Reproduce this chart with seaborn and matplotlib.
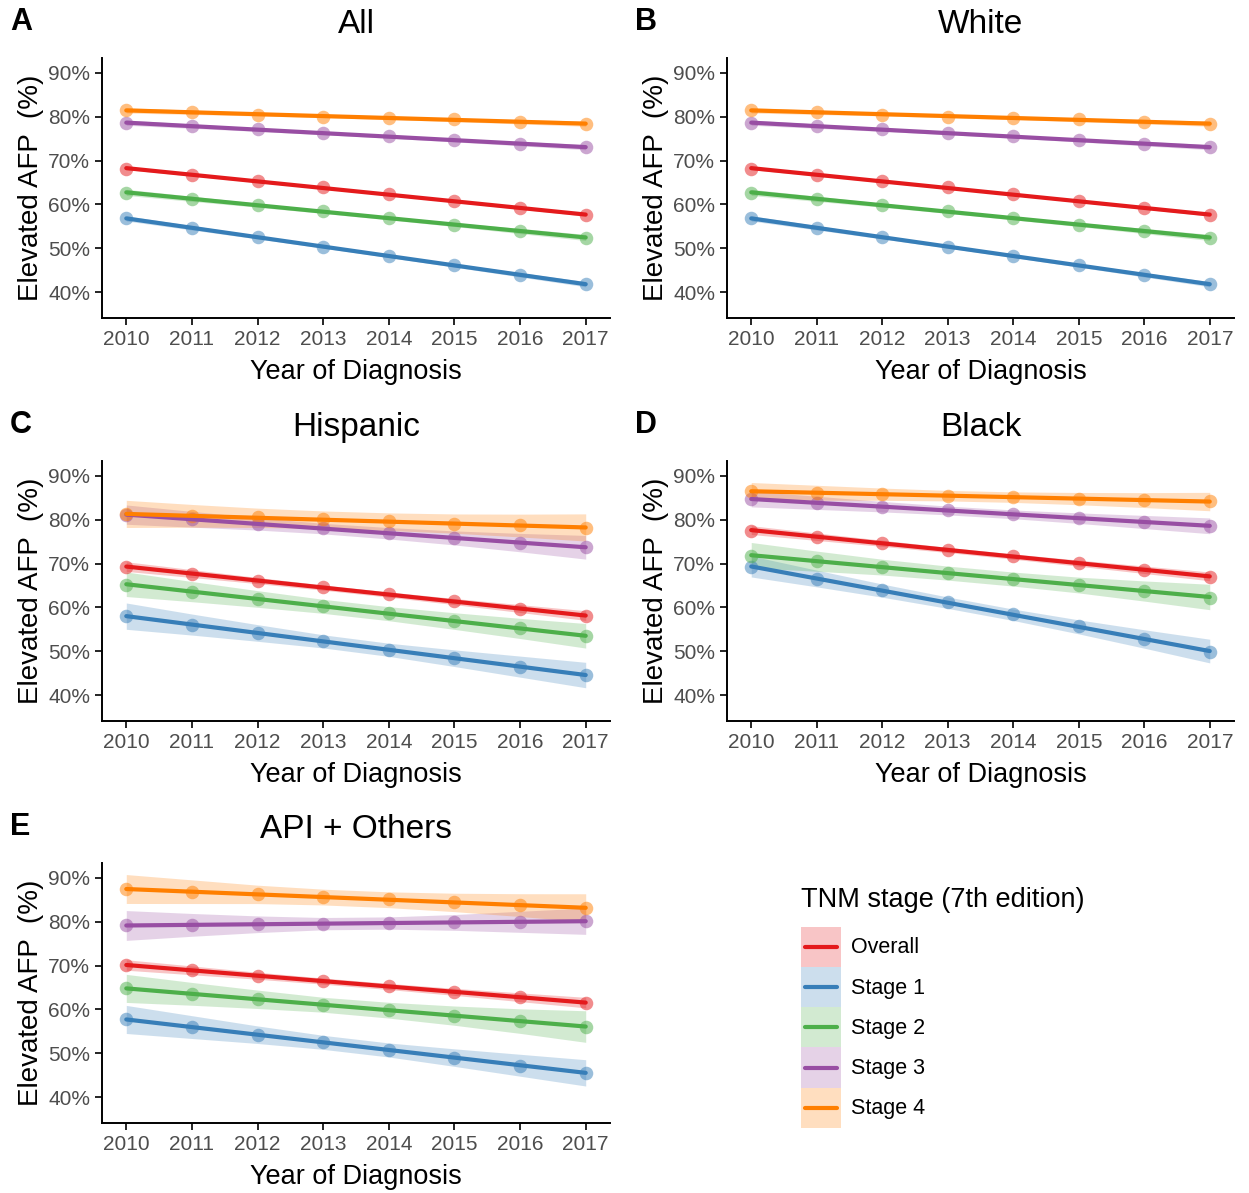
import numpy as np
import seaborn as sns
import matplotlib.pyplot as plt
from matplotlib.patches import Rectangle
from matplotlib.lines import Line2D
from matplotlib.legend_handler import HandlerBase


# years on the x axis
years = [2010, 2011, 2012, 2013, 2014, 2015, 2016, 2017]
stages = ['Overall', 'Stage 1', 'Stage 2', 'Stage 3', 'Stage 4']
colors = ['#E41A1C', '#377EB8', '#4DAF4A', '#984EA3', '#FF7F00']

all_pts = {
    'Overall': [68.1, 66.8, 65.3, 63.9, 62.3, 60.8, 59.1, 57.6],
    'Stage 1': [56.8, 54.7, 52.6, 50.3, 48.2, 46.1, 44.0, 41.8],
    'Stage 2': [62.7, 61.2, 59.9, 58.4, 57.0, 55.4, 53.9, 52.4],
    'Stage 3': [78.6, 77.8, 77.1, 76.3, 75.6, 74.7, 73.8, 73.0],
    'Stage 4': [81.5, 81.1, 80.5, 80.0, 79.7, 79.4, 78.9, 78.4],
}
white_pts = {
    'Overall': [68.1, 66.8, 65.3, 63.9, 62.3, 60.8, 59.1, 57.6],
    'Stage 1': [56.8, 54.7, 52.6, 50.3, 48.2, 46.1, 44.0, 41.8],
    'Stage 2': [62.7, 61.2, 59.9, 58.4, 57.0, 55.4, 53.9, 52.4],
    'Stage 3': [78.6, 77.8, 77.1, 76.3, 75.6, 74.7, 73.8, 73.0],
    'Stage 4': [81.5, 81.1, 80.5, 80.0, 79.7, 79.4, 78.9, 78.4],
}
hispanic_pts = {
    'Overall': [69.3, 67.7, 66.1, 64.6, 63.0, 61.4, 59.7, 58.1],
    'Stage 1': [58.0, 56.1, 54.2, 52.3, 50.3, 48.4, 46.5, 44.6],
    'Stage 2': [65.2, 63.6, 61.9, 60.3, 58.8, 56.9, 55.2, 53.4],
    'Stage 3': [81.0, 80.2, 79.1, 78.1, 76.9, 75.9, 74.7, 73.7],
    'Stage 4': [81.2, 80.8, 80.6, 80.1, 79.7, 79.1, 78.7, 78.1],
}
black_pts = {
    'Overall': [77.5, 76.1, 74.7, 73.2, 71.7, 70.2, 68.6, 66.9],
    'Stage 1': [69.2, 66.5, 63.9, 61.2, 58.5, 55.7, 52.8, 49.8],
    'Stage 2': [71.8, 70.5, 69.3, 67.9, 66.5, 65.2, 63.8, 62.2],
    'Stage 3': [84.7, 83.8, 83.0, 82.2, 81.3, 80.4, 79.4, 78.6],
    'Stage 4': [86.5, 86.2, 85.9, 85.4, 85.1, 84.8, 84.5, 84.2],
}
api_pts = {
    'Overall': [70.1, 68.9, 67.7, 66.5, 65.3, 64.0, 62.8, 61.5],
    'Stage 1': [57.8, 55.9, 54.2, 52.5, 50.8, 49.0, 47.2, 45.6],
    'Stage 2': [64.8, 63.5, 62.3, 61.1, 59.9, 58.6, 57.4, 56.0],
    'Stage 3': [79.2, 79.3, 79.4, 79.5, 79.7, 79.9, 79.9, 80.2],
    'Stage 4': [87.4, 86.8, 86.3, 85.7, 85.1, 84.4, 83.8, 83.1],
}

# half width of the confidence band around each fitted line (%)
all_ci = {
    'Overall': [0.35, 0.3, 0.25, 0.2, 0.2, 0.25, 0.3, 0.35],
    'Stage 1': [0.6, 0.5, 0.4, 0.35, 0.35, 0.4, 0.5, 0.6],
    'Stage 2': [0.7, 0.6, 0.45, 0.4, 0.4, 0.45, 0.6, 0.7],
    'Stage 3': [0.6, 0.5, 0.4, 0.35, 0.35, 0.4, 0.5, 0.6],
    'Stage 4': [0.6, 0.5, 0.4, 0.35, 0.35, 0.4, 0.5, 0.6],
}
white_ci = {
    'Overall': [0.35, 0.3, 0.25, 0.2, 0.2, 0.25, 0.3, 0.35],
    'Stage 1': [0.6, 0.5, 0.4, 0.35, 0.35, 0.4, 0.5, 0.6],
    'Stage 2': [0.7, 0.6, 0.45, 0.4, 0.4, 0.45, 0.6, 0.7],
    'Stage 3': [0.6, 0.5, 0.4, 0.35, 0.35, 0.4, 0.5, 0.6],
    'Stage 4': [0.6, 0.5, 0.4, 0.35, 0.35, 0.4, 0.5, 0.6],
}
hispanic_ci = {
    'Overall': [1.1, 0.9, 0.7, 0.6, 0.6, 0.7, 0.9, 1.1],
    'Stage 1': [3.0, 2.4, 1.9, 1.5, 1.5, 1.9, 2.4, 2.9],
    'Stage 2': [2.8, 2.3, 1.9, 1.6, 1.6, 1.9, 2.3, 2.8],
    'Stage 3': [2.2, 1.8, 1.4, 1.2, 1.3, 1.6, 2.1, 2.7],
    'Stage 4': [3.1, 2.6, 2.2, 2.0, 2.0, 2.2, 2.6, 3.1],
}
black_ci = {
    'Overall': [1.0, 0.85, 0.7, 0.6, 0.6, 0.7, 0.85, 1.0],
    'Stage 1': [2.4, 1.9, 1.5, 1.3, 1.3, 1.6, 2.1, 2.7],
    'Stage 2': [2.9, 2.3, 1.8, 1.6, 1.6, 1.8, 2.3, 2.9],
    'Stage 3': [1.8, 1.5, 1.2, 1.0, 1.0, 1.2, 1.5, 1.8],
    'Stage 4': [2.0, 1.7, 1.4, 1.2, 1.2, 1.4, 1.7, 2.1],
}
api_ci = {
    'Overall': [1.2, 1.0, 0.8, 0.7, 0.7, 0.8, 1.0, 1.2],
    'Stage 1': [3.2, 2.6, 2.0, 1.6, 1.6, 2.0, 2.5, 3.0],
    'Stage 2': [3.2, 2.6, 2.1, 1.7, 1.8, 2.2, 2.8, 3.6],
    'Stage 3': [3.4, 2.6, 1.9, 1.4, 1.4, 1.8, 2.4, 3.0],
    'Stage 4': [3.3, 2.7, 2.1, 1.8, 1.8, 2.1, 2.6, 3.2],
}

panels = [
    ('A', 'All', all_pts, all_ci),
    ('B', 'White', white_pts, white_ci),
    ('C', 'Hispanic', hispanic_pts, hispanic_ci),
    ('D', 'Black', black_pts, black_ci),
    ('E', 'API + Others', api_pts, api_ci),
]

sns.set_style('ticks')
plt.rcParams['font.family'] = ['Liberation Sans', 'DejaVu Sans']
plt.rcParams['text.color'] = 'black'
plt.rcParams['axes.labelcolor'] = 'black'

W, H = 1249, 1193
fig = plt.figure(figsize=(W / 100, H / 100), dpi=100)

# axes boxes in pixels: left, top, right, bottom
boxes = [(102, 58, 610, 318), (727, 58, 1234, 318),
         (102, 461, 610, 721), (727, 461, 1234, 721),
         (102, 863, 610, 1123)]


def panel(ax, name, pts, ci):
    x = np.array(years)
    for st, col in zip(stages, colors):
        y = np.array(pts[st])
        fit = np.polyval(np.polyfit(x, y, 1), x)
        hw = np.array(ci[st])
        ax.fill_between(x, fit - hw, fit + hw, color=col, alpha=0.25,
                        lw=0, zorder=1)
    for st, col in zip(stages, colors):
        sns.regplot(x=x, y=np.array(pts[st]), ax=ax, ci=None, truncate=True,
                    color=col,
                    scatter_kws={'s': 95, 'alpha': 0.5, 'linewidths': 0,
                                 'zorder': 2},
                    line_kws={'lw': 3, 'zorder': 3})
    ax.set_xlim(2009.63, 2017.37)
    ax.set_ylim(34.1, 93.4)
    ax.set_xticks(years)
    ax.set_yticks([40, 50, 60, 70, 80, 90])
    ax.set_yticklabels([f'{v}%' for v in [40, 50, 60, 70, 80, 90]])
    ax.tick_params(labelsize=15, labelcolor='#4D4D4D', length=5,
                   width=1.2, color='black')
    for s in ['left', 'bottom']:
        ax.spines[s].set_linewidth(1.4)
        ax.spines[s].set_color('black')
    sns.despine(ax=ax)
    ax.set_xlabel('Year of Diagnosis', fontsize=19.5, labelpad=7)
    ax.set_ylabel('Elevated AFP  (%)', fontsize=20, labelpad=3)
    ax.set_title(name, fontsize=24, pad=18)


for (letter, name, pts, ci), (l, t, r, b) in zip(panels, boxes):
    ax = fig.add_axes([l / W, 1 - b / H, (r - l) / W, (b - t) / H])
    panel(ax, name, pts, ci)
    fig.text((l - 92) / W, 1 - (t - 36) / H, letter, fontsize=22,
             fontweight='bold', ha='left', va='center')


# legend key: shaded band box with the line through its middle
class BandKey:
    def __init__(self, color):
        self.color = color


class BandKeyHandler(HandlerBase):
    def create_artists(self, legend, orig_handle, xdescent, ydescent,
                       width, height, fontsize, trans):
        box = Rectangle((-xdescent, -ydescent), width, height,
                        fc=orig_handle.color, alpha=0.25, ec='none',
                        transform=trans)
        ym = -ydescent + height / 2
        x0 = -xdescent
        line = Line2D([x0 + 0.1 * width, x0 + 0.9 * width], [ym, ym],
                      color=orig_handle.color, lw=3, transform=trans)
        return [box, line]


handles = [BandKey(c) for c in colors]
leg = fig.legend(handles, stages, loc='upper left',
                 handler_map={BandKey: BandKeyHandler()},
                 bbox_to_anchor=(790 / W, 1 - 876 / H), frameon=False,
                 fontsize=15.5, title='TNM stage (7th edition)',
                 title_fontsize=19.5, handlelength=1.85, handleheight=2.5,
                 labelspacing=0.0, handletextpad=0.5, borderpad=0,
                 alignment='left')
leg._legend_box.sep = 10

fig.savefig('out.png', dpi=100)
